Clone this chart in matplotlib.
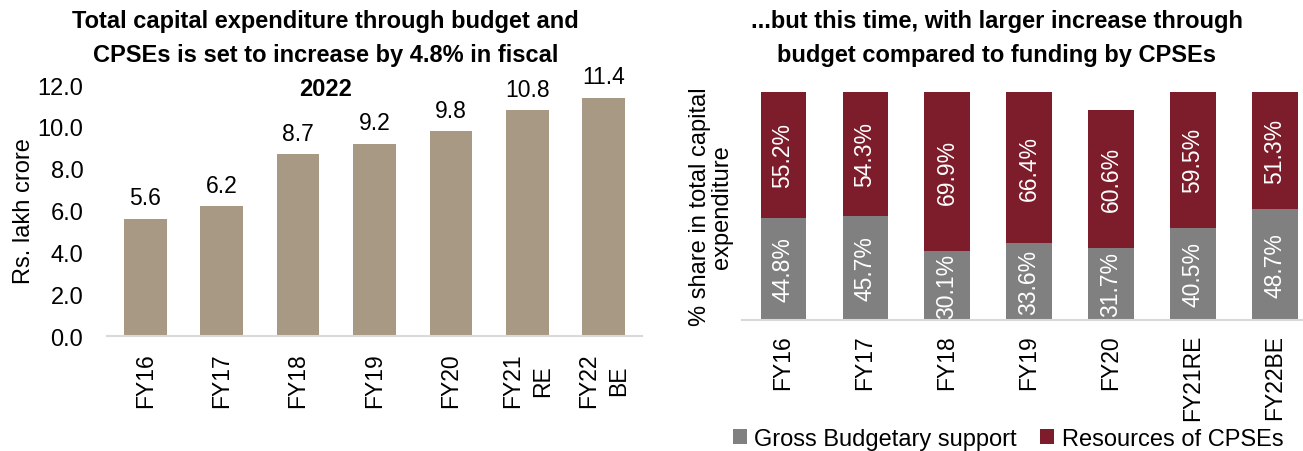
import matplotlib.pyplot as plt
import numpy as np

# left chart data
years_left = ['FY16', 'FY17', 'FY18', 'FY19', 'FY20', 'FY21\nRE', 'FY22\nBE']
capex = [5.6, 6.2, 8.7, 9.2, 9.8, 10.8, 11.4]

# right chart data
years_right = ['FY16', 'FY17', 'FY18', 'FY19', 'FY20', 'FY21RE', 'FY22BE']
gbs_share = [44.8, 45.7, 30.1, 33.6, 31.7, 40.5, 48.7]
cpse_share = [55.2, 54.3, 69.9, 66.4, 60.6, 59.5, 51.3]

plt.rcParams['font.family'] = ['Liberation Sans', 'DejaVu Sans']

beige = '#A89984'
grey = '#808080'
maroon = '#7D1C2A'
axis_col = '#D9D9D9'

fig = plt.figure(figsize=(13.03, 4.52), dpi=100)

# ---- left: total capex ----
ax1 = fig.add_axes([0.0821, 0.2544, 0.4106, 0.5553])
x = np.arange(len(capex))
ax1.bar(x, capex, width=0.56, color=beige)
for xi, v in zip(x, capex):
    ax1.text(xi, v + 0.45, f'{v:.1f}', ha='center', va='bottom', fontsize=16.5)
ax1.set_xlim(-0.5, 6.5)
ax1.set_ylim(0, 12)
ax1.set_yticks(np.arange(0, 12.1, 2))
ax1.set_yticklabels([f'{t:.1f}' for t in np.arange(0, 12.1, 2)], fontsize=17)
ax1.set_xticks(x)
ax1.set_xticklabels(years_left, rotation=90, fontsize=16.5, linespacing=1.4)
ax1.tick_params(axis='y', length=0, pad=17)
ax1.tick_params(axis='x', length=0, pad=12)
for s in ['top', 'right', 'left']:
    ax1.spines[s].set_visible(False)
ax1.spines['bottom'].set_color(axis_col)
ax1.spines['bottom'].set_linewidth(1.5)
ax1.set_ylabel('Rs. lakh crore', fontsize=17)
ax1.yaxis.set_label_coords(-0.135, 0.5)

fig.text(0.250, 0.978, 'Total capital expenditure through budget and\nCPSEs is set to increase by 4.8% in fiscal\n2022',
         ha='center', va='top', fontsize=17, fontweight='bold', linespacing=1.6)

# ---- right: shares ----
ax2 = fig.add_axes([0.5695, 0.2898, 0.4405, 0.5044])
x2 = np.arange(len(gbs_share))
ax2.bar(x2, gbs_share, width=0.55, color=grey, label='Gross Budgetary support')
ax2.bar(x2, cpse_share, width=0.55, bottom=gbs_share, color=maroon, label='Resources of CPSEs')
for xi, g, c in zip(x2, gbs_share, cpse_share):
    ax2.text(xi, g / 2, f'{g:.1f}%', ha='center', va='center', rotation=90,
             color='white', fontsize=16.5)
    ax2.text(xi, g + c / 2, f'{c:.1f}%', ha='center', va='center', rotation=90,
             color='white', fontsize=16.5)
ax2.set_xlim(-0.5, 6.5)
ax2.set_ylim(0, 100)
ax2.set_yticks([])
ax2.set_xticks(x2)
ax2.set_xticklabels(years_right, rotation=90, fontsize=16.5)
ax2.tick_params(length=0, pad=10)
for s in ['top', 'right', 'left']:
    ax2.spines[s].set_visible(False)
ax2.spines['bottom'].set_color(axis_col)
ax2.spines['bottom'].set_linewidth(1.5)
ax2.set_ylabel('% share in total capital\nexpenditure', fontsize=17, linespacing=1.0)
ax2.yaxis.set_label_coords(-0.015, 0.5)

fig.text(0.765, 0.978, '...but this time, with larger increase through\nbudget compared to funding by CPSEs',
         ha='center', va='top', fontsize=17, fontweight='bold', linespacing=1.6)

fig.legend(loc='center', bbox_to_anchor=(1008 / 1303, 1 - 440 / 452), ncol=2, frameon=False,
           fontsize=17, handlelength=0.6, handleheight=0.6, handletextpad=0.3, columnspacing=1.0,
           borderpad=0)

fig.savefig('out.png', dpi=100)
